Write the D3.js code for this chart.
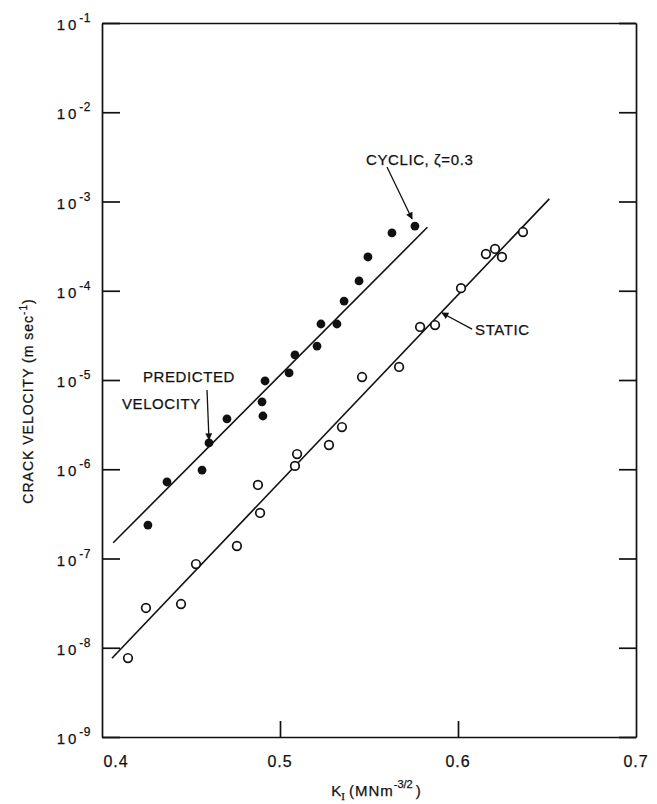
<!DOCTYPE html>
<html>
  <head>
    <meta charset="utf-8">
    <title>Crack velocity vs K</title>
    <script src="https://d3js.org/d3.v7.min.js"></script>
    <style type="text/css">
      body {
        margin: 0;
        background-color: #FFFFFF;
      }
      svg text {
        font-family: 'Liberation Sans', Arial, sans-serif;
        fill: #111111;
        stroke: #111111;
        stroke-width: 0.25;
      }
      .axis path, .axis line {
        stroke: #111111;
        stroke-width: 1.7;
      }
      .fit {
        fill: none;
        stroke: #111111;
        stroke-width: 1.6;
      }
      .open {
        fill: #FFFFFF;
        stroke: #111111;
        stroke-width: 1.7;
      }
      .filled {
        fill: #111111;
      }
    </style>
  </head>
  <body>
  <script type="text/javascript">
    // Data
    var cyclicK = [0.4258, 0.4365, 0.4562, 0.4601, 0.4702, 0.4899, 0.4904, 0.4916, 0.5051,
                   0.5084, 0.5208, 0.5230, 0.5320, 0.5360, 0.5444, 0.5494, 0.5629, 0.5758];
    var cyclicV = [2.37e-7, 7.2e-7, 9.8e-7, 1.97e-6, 3.66e-6, 5.7e-6, 3.95e-6, 9.75e-6, 1.20e-5,
                   1.91e-5, 2.40e-5, 4.24e-5, 4.24e-5, 7.67e-5, 1.29e-4, 2.39e-4, 4.44e-4, 5.31e-4];

    var staticK = [0.4146, 0.4247, 0.4444, 0.4528, 0.4758, 0.4888, 0.4876, 0.5084, 0.5096, 0.5275,
                   0.5348, 0.5461, 0.5669, 0.5787, 0.5871, 0.6017, 0.6157, 0.6208, 0.6247, 0.6365];
    var staticV = [7.67e-9, 2.79e-8, 3.09e-8, 8.67e-8, 1.38e-7, 3.24e-7, 6.67e-7, 1.09e-6, 1.48e-6, 1.87e-6,
                   2.97e-6, 1.08e-5, 1.40e-5, 3.93e-5, 4.13e-5, 1.07e-4, 2.58e-4, 2.94e-4, 2.39e-4, 4.55e-4];

    // fitted lines (end points)
    var cyclicFitK = [0.4063, 0.5828],
        cyclicFitV = [1.50e-7, 5.14e-4];
    var staticFitK = [0.4056, 0.6513],
        staticFitV = [7.62e-9, 1.07e-3];

    var xTicks = [0.4, 0.5, 0.6, 0.7];
    var xTickLabels = ["0.4", "0.5", "0.6", "0.7"];
    var yExponents = [-1, -2, -3, -4, -5, -6, -7, -8, -9];

    var width = 657, height = 804;

    var svg = d3.select("body").append("svg")
        .attr("width", width)
        .attr("height", height);

    var x = d3.scaleLinear()
        .domain([0.4, 0.7])
        .range([102, 636]);

    var y = d3.scaleLog()
        .domain([1e-9, 1e-1])
        .range([737, 23]);

    var decades = yExponents.map(function(e) { return Math.pow(10, e); });

    // axes, ticks pointing inward
    svg.append("g")
        .attr("class", "axis")
        .attr("transform", "translate(" + x(0.4) + ",0)")
        .call(d3.axisRight(y).tickValues(decades).tickSizeInner(18).tickSizeOuter(0).tickFormat(""));

    svg.append("g")
        .attr("class", "axis")
        .attr("transform", "translate(" + x(0.7) + ",0)")
        .call(d3.axisLeft(y).tickValues(decades).tickSizeInner(17).tickSizeOuter(0).tickFormat(""));

    svg.append("g")
        .attr("class", "axis")
        .attr("transform", "translate(0," + y(1e-9) + ")")
        .call(d3.axisTop(x).tickValues([0.5, 0.6]).tickSizeInner(16).tickSizeOuter(0).tickFormat(""));

    svg.append("g")
        .attr("class", "axis")
        .attr("transform", "translate(0," + y(1e-1) + ")")
        .call(d3.axisBottom(x).tickValues([]).tickSizeOuter(0));

    svg.selectAll(".axis .domain").attr("stroke-width", 2.2);

    // y tick labels 10^n
    var yl = svg.selectAll(".ylab")
        .data(yExponents)
      .enter().append("text")
        .attr("class", "ylab")
        .attr("x", x(0.4) - 11)
        .attr("y", function(d) { return y(Math.pow(10, d)) + 7; })
        .attr("text-anchor", "end")
        .style("font-size", "15px");
    yl.append("tspan")
        .style("letter-spacing", "3px")
        .text("10");
    yl.append("tspan")
        .attr("dy", -8)
        .style("font-size", "12px")
        .style("letter-spacing", "0.5px")
        .text(function(d) { return "-" + (-d); });

    // x tick labels
    svg.selectAll(".xlab")
        .data(xTicks)
      .enter().append("text")
        .attr("class", "xlab")
        .attr("x", function(d, i) { return x(d) + (i === 0 ? 14 : 0); })
        .attr("y", y(1e-9) + 30)
        .attr("text-anchor", "middle")
        .style("font-size", "16px")
        .style("letter-spacing", "1px")
        .text(function(d, i) { return xTickLabels[i]; });

    // axis titles
    var xt = svg.append("text")
        .attr("x", 376)
        .attr("y", 796)
        .attr("text-anchor", "middle")
        .style("font-size", "15px");
    xt.append("tspan").text("K");
    xt.append("tspan").attr("dy", 4).style("font-size", "11px")
        .style("font-family", "'Liberation Serif', serif").text("I");
    xt.append("tspan").attr("dy", -4).attr("dx", 4).style("letter-spacing", "1px").text("(MNm");
    xt.append("tspan").attr("dy", -8).style("font-size", "11px").text("-3/2");
    xt.append("tspan").attr("dy", 8).attr("dx", 3).text(")");

    var yt = svg.append("text")
        .attr("transform", "translate(33,401) rotate(-90)")
        .attr("text-anchor", "middle")
        .style("font-size", "14px")
        .style("letter-spacing", "1px");
    yt.append("tspan").text("CRACK  VELOCITY  (m sec");
    yt.append("tspan").attr("dy", -6).style("font-size", "10px").text("-1");
    yt.append("tspan").attr("dy", 6).text(")");

    // fitted lines
    var line = d3.line()
        .x(function(d) { return x(d[0]); })
        .y(function(d) { return y(d[1]); });

    svg.append("path")
        .datum(d3.zip(cyclicFitK, cyclicFitV))
        .attr("class", "fit")
        .attr("d", line);

    svg.append("path")
        .datum(d3.zip(staticFitK, staticFitV))
        .attr("class", "fit")
        .attr("d", line);

    // points
    svg.selectAll(".open")
        .data(d3.zip(staticK, staticV))
      .enter().append("circle")
        .attr("class", "open")
        .attr("cx", function(d) { return x(d[0]); })
        .attr("cy", function(d) { return y(d[1]); })
        .attr("r", 4.3);

    svg.selectAll(".filled")
        .data(d3.zip(cyclicK, cyclicV))
      .enter().append("circle")
        .attr("class", "filled")
        .attr("cx", function(d) { return x(d[0]); })
        .attr("cy", function(d) { return y(d[1]); })
        .attr("r", 4.4);

    // annotations (data coordinates)
    svg.append("defs").append("marker")
        .attr("id", "head")
        .attr("viewBox", "0 0 10 10")
        .attr("refX", 9)
        .attr("refY", 5)
        .attr("markerWidth", 9)
        .attr("markerHeight", 7)
        .attr("markerUnits", "userSpaceOnUse")
        .attr("orient", "auto")
      .append("path")
        .attr("d", "M0,0 L10,5 L0,10 Z")
        .attr("fill", "#111111");

    var labels = [
      {text: "CYCLIC, \u03B6=0.3", k: 0.5483, v: 2.56e-3},
      {text: "STATIC", k: 0.6096, v: 3.19e-5},
      {text: "PREDICTED", k: 0.4230, v: 9.5e-6},
      {text: "VELOCITY", k: 0.4112, v: 4.73e-6}
    ];
    var arrows = [
      {k1: 0.5601, v1: 2.44e-3, k2: 0.5742, v2: 6.37e-4},
      {k1: 0.6079, v1: 3.72e-5, k2: 0.5910, v2: 5.64e-5},
      {k1: 0.4590, v1: 7.73e-6, k2: 0.4601, v2: 2.15e-6}
    ];

    svg.selectAll(".note")
        .data(labels)
      .enter().append("text")
        .attr("class", "note")
        .attr("x", function(d) { return x(d.k); })
        .attr("y", function(d) { return y(d.v); })
        .style("font-size", "15px")
        .style("letter-spacing", "0.6px")
        .text(function(d) { return d.text; });

    svg.selectAll(".arrow")
        .data(arrows)
      .enter().append("line")
        .attr("class", "arrow")
        .attr("x1", function(d) { return x(d.k1); })
        .attr("y1", function(d) { return y(d.v1); })
        .attr("x2", function(d) { return x(d.k2); })
        .attr("y2", function(d) { return y(d.v2); })
        .attr("stroke", "#111111")
        .attr("stroke-width", 1.3)
        .attr("marker-end", "url(#head)");
  </script>
  </body>
</html>
